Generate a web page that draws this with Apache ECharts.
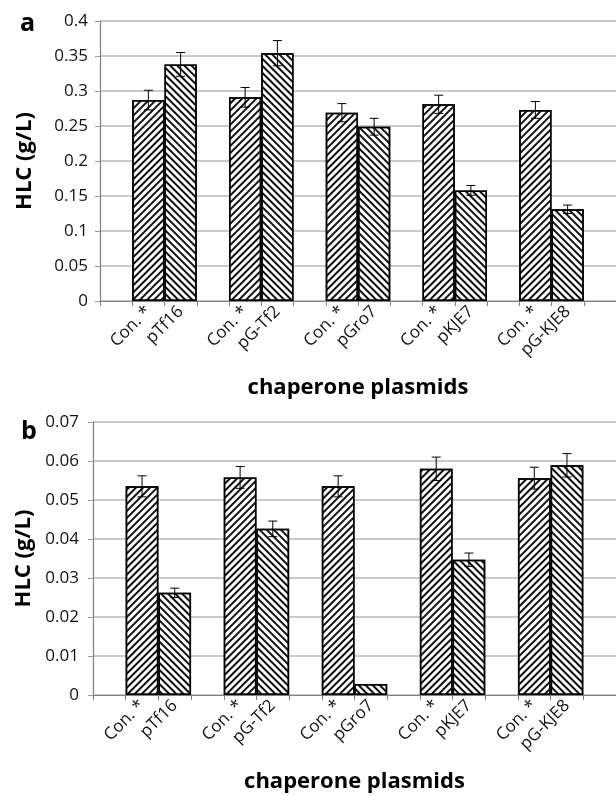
<!DOCTYPE html>
<html>
<head>
<meta charset="utf-8">
<script src="https://cdn.jsdelivr.net/npm/echarts@6/dist/echarts.min.js"></script>
<style>
  html, body { margin: 0; padding: 0; background: #fff; }
  #chart { width: 616px; height: 796px; }
</style>
</head>
<body>
<div id="chart"></div>
<script>
const plasmids = ['pTf16', 'pG-Tf2', 'pGro7', 'pKJE7', 'pG-KJE8']
const controlLabel = 'Con. *'

// panel a
const conA = [0.287, 0.291, 0.269, 0.281, 0.273]
const conErrA = [0.014, 0.014, 0.013, 0.013, 0.012]
const plasA = [0.338, 0.354, 0.249, 0.158, 0.131]
const plasErrA = [0.017, 0.018, 0.012, 0.007, 0.006]
const yTicksA = [0, 0.05, 0.1, 0.15, 0.2, 0.25, 0.3, 0.35, 0.4]

// panel b
const conB = [0.0535, 0.0558, 0.0535, 0.058, 0.0556]
const conErrB = [0.0027, 0.0028, 0.0027, 0.003, 0.0028]
const plasB = [0.0262, 0.0426, 0.0028, 0.0347, 0.0589]
const plasErrB = [0.0012, 0.002, 0, 0.0017, 0.003]
const yTicksB = [0, 0.01, 0.02, 0.03, 0.04, 0.05, 0.06, 0.07]

// every group is: empty slot, control bar, plasmid bar; one empty slot at the end
const slotLabels = []
plasmids.forEach(p => slotLabels.push('', controlLabel, p))
slotLabels.push('')

const toSlots = (values, offset) => {
  const out = slotLabels.map(() => '-')
  values.forEach((v, i) => { out[i * 3 + offset] = v })
  return out
}
const toErr = (values, errs, offset) => values.map((v, i) => [i * 3 + offset, v, errs[i]])

const hatch = rot => ({
  symbol: 'rect', symbolSize: 1,
  dashArrayX: [1, 0], dashArrayY: [1.8, 2.2],
  rotation: rot, color: '#111',
})

const FONT = 'Open Sans'
const gridColor = '#b8b8b8'

const xAxisFor = (gridIndex, nameGap) => ({
  type: 'category',
  gridIndex,
  data: slotLabels.map((_, i) => 'c' + i),
  boundaryGap: true,
  name: 'chaperone plasmids',
  nameLocation: 'middle',
  nameGap,
  nameTextStyle: { fontFamily: FONT, fontWeight: 'bold', fontSize: 22, color: '#000' },
  axisLine: { lineStyle: { color: '#808080', width: 1.2 } },
  axisTick: { show: true, interval: 0, length: 5, lineStyle: { color: '#808080' } },
  axisLabel: {
    interval: 0, rotate: 45, margin: 8,
    fontFamily: FONT, fontSize: 17, color: '#111',
    formatter: (v, i) => slotLabels[i],
  },
  splitLine: { show: false },
})

const yAxisFor = (gridIndex, ticks, labelMargin, nameGap) => ({
  type: 'value',
  gridIndex,
  min: ticks[0],
  max: ticks[ticks.length - 1],
  interval: ticks[1] - ticks[0],
  name: 'HLC (g/L)',
  nameLocation: 'middle',
  nameRotate: 90,
  nameGap,
  nameTextStyle: { fontFamily: FONT, fontWeight: 'bold', fontSize: 22, color: '#000' },
  axisLine: { show: true, lineStyle: { color: '#808080', width: 1.2 } },
  axisTick: { show: true, length: 5, lineStyle: { color: '#9a9a9a' } },
  axisLabel: { fontFamily: FONT, fontSize: 17, color: '#111', margin: labelMargin },
  splitLine: { lineStyle: { color: gridColor, width: 1.5 } },
})

const barSeries = (idx, data, rot) => ({
  type: 'bar',
  xAxisIndex: idx, yAxisIndex: idx,
  stack: 'panel' + idx,
  barWidth: '100%',
  data,
  itemStyle: { color: '#fff', borderColor: '#000', borderWidth: 1.5, decal: hatch(rot) },
  silent: true,
})

const errSeries = (idx, data) => ({
  type: 'custom',
  xAxisIndex: idx, yAxisIndex: idx,
  data,
  silent: true,
  z: 5,
  renderItem: (params, api) => {
    const x = api.value(0), y = api.value(1), e = api.value(2)
    if (!e) return
    const top = api.coord([x, y + e])
    const bot = api.coord([x, y - e])
    const w = 4.5
    const style = { stroke: '#000', lineWidth: 1 }
    return {
      type: 'group',
      children: [
        { type: 'line', shape: { x1: top[0], y1: top[1], x2: bot[0], y2: bot[1] }, style },
        { type: 'line', shape: { x1: top[0] - w, y1: top[1], x2: top[0] + w, y2: top[1] }, style },
        { type: 'line', shape: { x1: bot[0] - w, y1: bot[1], x2: bot[0] + w, y2: bot[1] }, style },
      ],
    }
  },
})

const chart = echarts.init(document.getElementById('chart'), null, { renderer: 'canvas' })

chart.setOption({
  animation: false,
  backgroundColor: '#fff',
  title: [
    { text: 'a', left: 15, top: 6, textStyle: { fontFamily: FONT, fontWeight: 'bold', fontSize: 25, color: '#000' } },
    { text: 'b', left: 16, top: 414, textStyle: { fontFamily: FONT, fontWeight: 'bold', fontSize: 25, color: '#000' } },
  ],
  grid: [
    { left: 100, top: 21, height: 280, right: -8 },
    { left: 93, top: 422, height: 273, right: -12 },
  ],
  xAxis: [xAxisFor(0, 76), xAxisFor(1, 76)],
  yAxis: [yAxisFor(0, yTicksA, 12, 64), yAxisFor(1, yTicksB, 14, 58)],
  series: [
    barSeries(0, toSlots(conA, 1), -Math.PI / 4),
    barSeries(0, toSlots(plasA, 2), Math.PI / 4),
    errSeries(0, toErr(conA, conErrA, 1).concat(toErr(plasA, plasErrA, 2))),
    barSeries(1, toSlots(conB, 1), -Math.PI / 4),
    barSeries(1, toSlots(plasB, 2), Math.PI / 4),
    errSeries(1, toErr(conB, conErrB, 1).concat(toErr(plasB, plasErrB, 2))),
  ],
})

window.addEventListener('resize', () => chart.resize())
</script>
</body>
</html>
